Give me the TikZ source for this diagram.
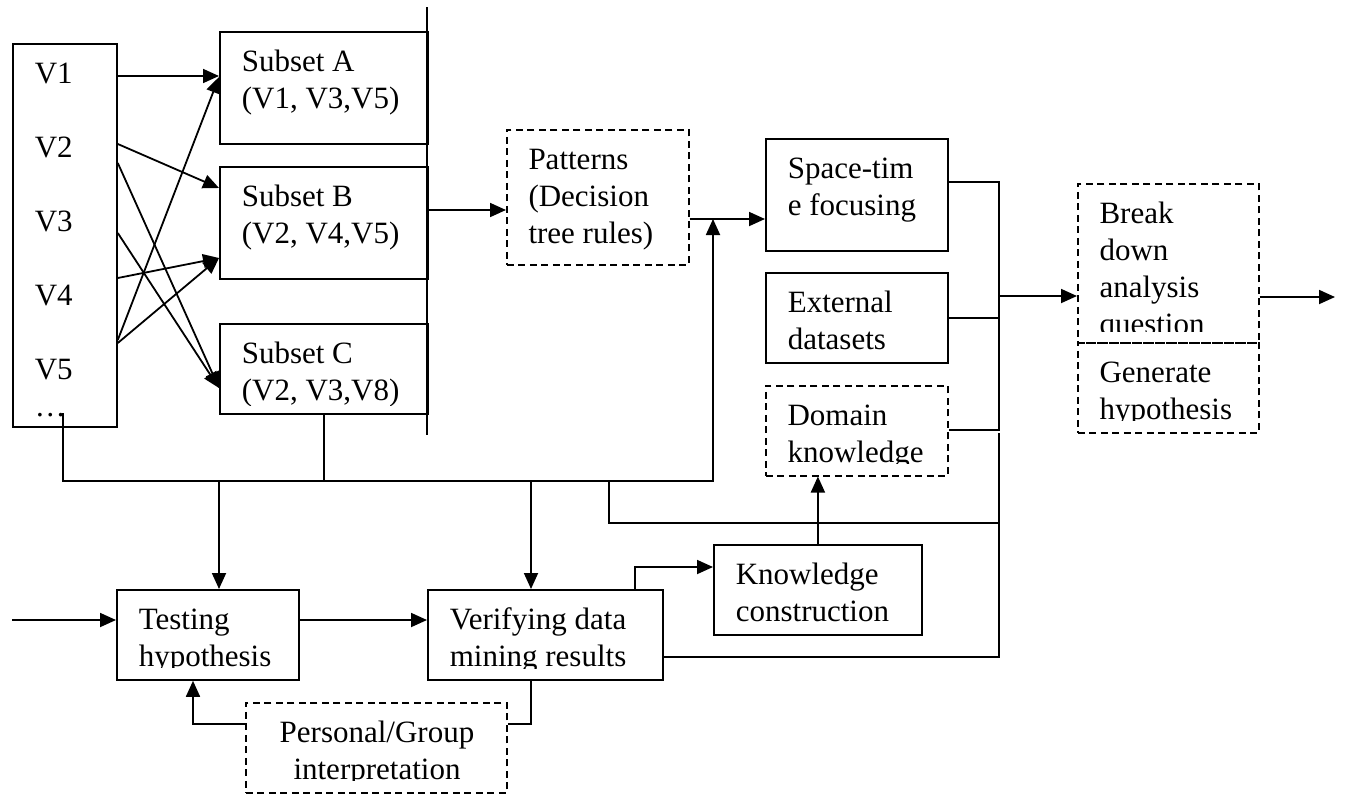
\documentclass[tikz,border=0pt]{standalone}
\usepackage{fontspec}
\setmainfont{Liberation Serif}
\usetikzlibrary{arrows.meta,calc}
\begin{document}
\begin{tikzpicture}[x=1pt,y=-1pt, line width=1.8pt,
  every node/.style={font=\fontsize{31pt}{37pt}\selectfont},
  arr/.style={-{Triangle[length=16pt,width=14pt]}},
  dsh/.style={dash pattern=on 7pt off 4.5pt, line width=1.5pt},
  tb/.style n args={3}{draw, rectangle, inner sep=0pt, anchor=north west,
    path picture={
      \clip ([yshift=#2]path picture bounding box.south west) rectangle (path picture bounding box.north east);
      \node[anchor=base west, inner sep=0pt, minimum width=0pt, minimum height=0pt]
        at ([xshift=21pt,yshift=-40pt]path picture bounding box.north west)
        {\parbox[t]{#1}{\raggedright #3}};
    }}]
\useasboundingbox (0,0) rectangle (1348,795);

% boxes
\node[tb={200pt}{2pt}{V1\\[37pt]V2\\[37pt]V3\\[37pt]V4\\[37pt]V5\\…}, minimum width=104pt, minimum height=383pt] (vb) at (12,43) {};
\node[tb={200pt}{12pt}{Subset A\\(V1, V3,V5)}, minimum width=208pt, minimum height=112pt] (sa) at (219,31) {};
\node[tb={200pt}{12pt}{Subset B\\(V2, V4,V5)}, minimum width=208pt, minimum height=112pt] (sb) at (219,166) {};
\node[tb={200pt}{8pt}{Subset C\\(V2, V3,V8)}, minimum width=208pt, minimum height=90pt] (sc) at (219,323) {};
\node[tb={200pt}{12pt}{Patterns\\(Decision\\tree rules)}, dsh, minimum width=182pt, minimum height=135pt] (pat) at (506,129) {};
\node[tb={200pt}{12pt}{Space-tim\\e focusing}, minimum width=182pt, minimum height=112pt] (st) at (765,138) {};
\node[tb={200pt}{12pt}{External\\datasets}, minimum width=182pt, minimum height=90pt] (ex) at (765,272) {};
\node[tb={200pt}{12pt}{Domain\\knowledge}, dsh, minimum width=182pt, minimum height=90pt] (dm) at (765,385) {};
\node[tb={200pt}{11pt}{Break\\down\\analysis\\question}, dsh, minimum width=181pt, minimum height=159pt] (bk) at (1077,183) {};
\node[tb={200pt}{12pt}{Generate\\hypothesis}, dsh, minimum width=181pt, minimum height=90pt] (gh) at (1077,342) {};
\node[tb={200pt}{12pt}{Knowledge\\construction}, minimum width=208pt, minimum height=90pt] (kn) at (713,544) {};
\node[tb={200pt}{12pt}{Testing\\hypothesis}, minimum width=182pt, minimum height=90pt] (th) at (116,589) {};
\node[tb={220pt}{11pt}{Verifying data\\mining results}, minimum width=235pt, minimum height=90pt] (vr) at (427,589) {};
\node[tb={219pt}{12pt}{\centering Personal/Group\\interpretation}, dsh, minimum width=261pt, minimum height=90pt] (pg) at (245,702) {};

% V -> subsets
\draw[arr] ([yshift=-33pt]vb.north east) -- ([yshift=-45pt]sa.north west);
\draw[arr] ([yshift=-101pt]vb.north east) -- ([yshift=-22pt]sb.north west);
\draw[arr] ([yshift=-120pt]vb.north east) -- ([yshift=-65pt]sc.north west);
\draw[arr] ([yshift=-190pt]vb.north east) -- ([yshift=-65pt]sc.north west);
\draw[arr] ([yshift=-235pt]vb.north east) -- ([yshift=-92pt]sb.north west);
\draw[arr] ([yshift=-297pt]vb.north east) -- ([yshift=-46pt]sa.north west);
\draw[arr] ([yshift=-300pt]vb.north east) -- ([yshift=-92pt]sb.north west);

% bar
\coordinate (bt) at (427,7);
\coordinate (bb) at (427,435);
\draw (bt) -- (bb);
\coordinate (p-in) at ([yshift=-81pt]pat.north west);
\draw[arr] (bt |- p-in) -- (p-in);

% patterns -> space-time
\coordinate (st-in) at ([yshift=-81pt]st.north west);
\draw[arr] (pat.east |- st-in) -- (st-in);

% bus
\coordinate (dots) at (63,413);
\coordinate (bus-r) at (713,481);
\draw[arr] (dots) |- (bus-r) -- (bus-r |- st-in);
\draw (sc.south) -- (sc.south |- bus-r);
\coordinate (th-in) at ([xshift=103pt]th.north west);
\draw[arr] (th-in |- bus-r) -- (th-in);
\coordinate (vr-in) at ([xshift=104pt]vr.north west);
\draw[arr] (vr-in |- bus-r) -- (vr-in);

% right collector
\coordinate (jx) at (999,296);
\coordinate (st-out) at ([yshift=-44pt]st.north east);
\coordinate (ex-out) at ([yshift=-46pt]ex.north east);
\coordinate (dm-out) at ([yshift=-45pt]dm.north east);
\draw (st-out) -| (jx |- dm-out) -- (dm-out);
\draw (ex-out) -- (jx |- ex-out);
\draw[arr] (jx) -- (bk.west |- jx);
\coordinate (out) at (1335,297);
\draw[arr] (bk.east |- out) -- (out);

% lower collector
\coordinate (b1) at (609,481);
\coordinate (b2) at (999,523);
\draw (b1) |- (b2);
\coordinate (rl) at (999,433);
\coordinate (vr-out) at ([yshift=-68pt]vr.north east);
\draw (rl) -- (rl |- vr-out) -- (vr-out);

% bottom row
\coordinate (in) at (12,620);
\draw[arr] (in) -- (th.west |- in);
\draw[arr] (th.east |- in) -- (vr.west |- in);
\coordinate (vk) at ([xshift=208pt]vr.north west);
\coordinate (kn-in) at ([yshift=-23pt]kn.north west);
\draw[arr] (vk) |- (kn-in);
\draw[arr] (kn.north) -- (kn.north |- dm.south);
\coordinate (pg-in) at ([yshift=-22pt]pg.north east);
\draw (vr-in |- vr.south) |- (pg-in);
\coordinate (th-b) at ([xshift=77pt]th.south west);
\draw[arr] (pg.west |- pg-in) -| (th-b);
\end{tikzpicture}
\end{document}
